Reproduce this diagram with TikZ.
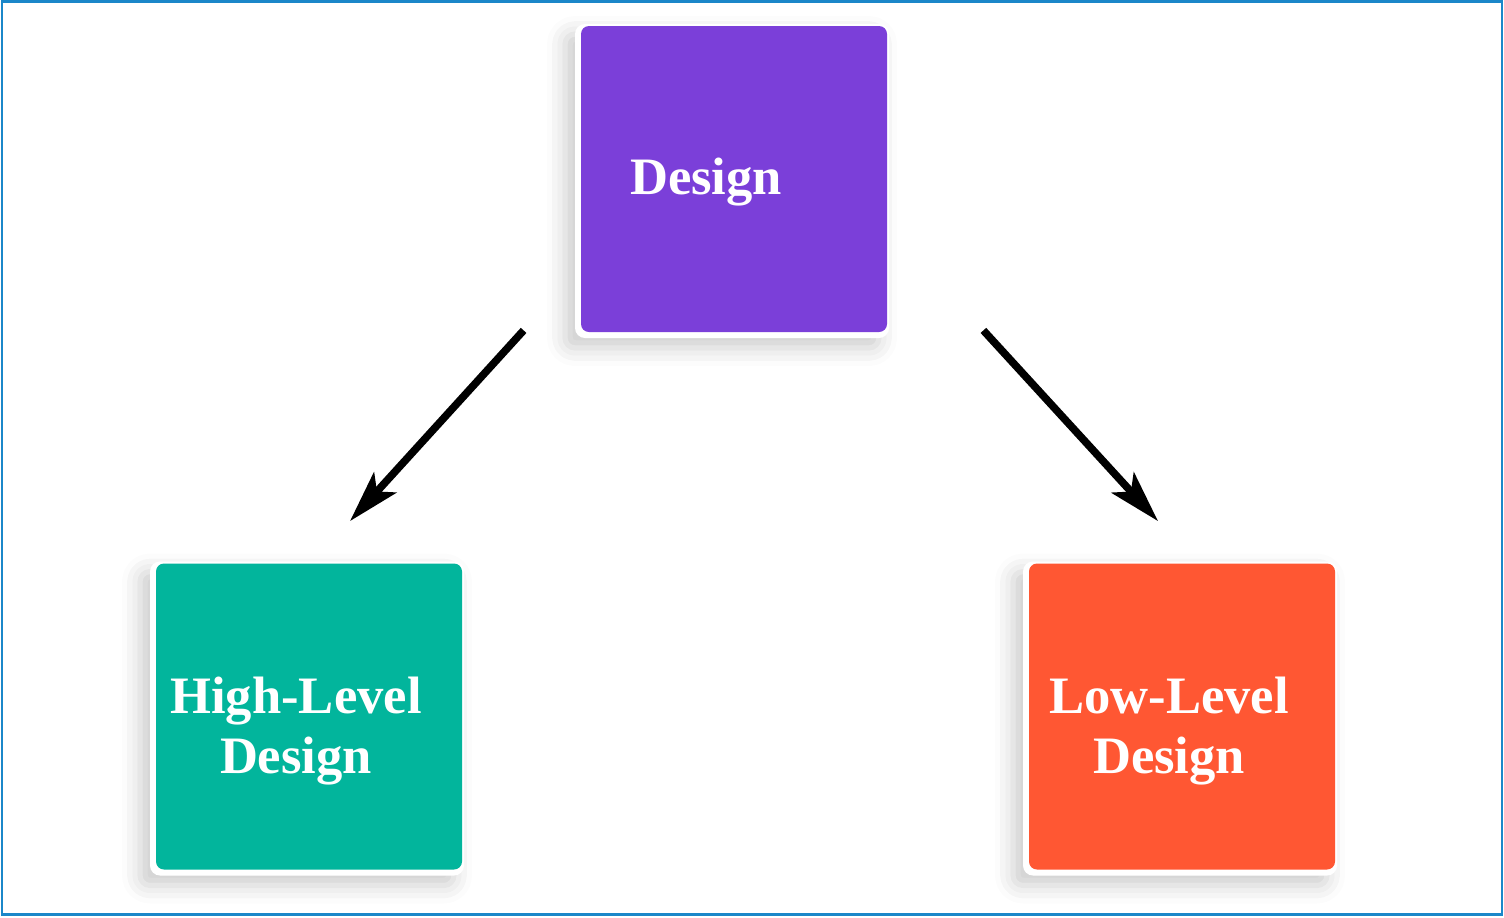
\documentclass[tikz,border=0pt]{standalone}
\usepackage{fontspec}
\setmainfont{Liberation Serif}
\usetikzlibrary{arrows.meta,positioning,shadows.blur,calc}
\definecolor{designpurple}{HTML}{7B3FD9}
\definecolor{hldteal}{HTML}{02B59C}
\definecolor{lldorange}{HTML}{FF5733}
\definecolor{frameblue}{HTML}{1B87C9}

\begin{document}
\begin{tikzpicture}[
        x=0.5pt, y=-0.5pt,
        card/.style={
          fill=white,
          rounded corners=5pt,
          minimum width=157pt,
          minimum height=157pt,
          inner sep=0pt,
          blur shadow={shadow xshift=-5pt, shadow yshift=-5pt,
            shadow blur radius=9pt, shadow opacity=20}
        },
        tile/.style={
          rounded corners=4pt,
          minimum width=153pt,
          minimum height=153pt,
          inner sep=0pt
        },
        caption/.style={
          text=white,
          font=\fontsize{26.3}{30}\selectfont\bfseries,
          align=center,
          inner sep=0pt
        },
        flow/.style={
          -{Stealth[length=26pt,width=15pt,inset=6pt]},
          line width=3.8pt,
          black
        }
      ]

      \useasboundingbox (0,0) rectangle (1504,917);
      \draw[frameblue, line width=1.2pt] (2,1.5) rectangle (1502,914.5);

      \node[card] (designcard) at (732,181) {};
      \node[tile, fill=designpurple] (design) at ([shift={(1pt,1pt)}]designcard.center) {};
      \node[card] (hldcard) at (307,718.5) {};
      \node[tile, fill=hldteal] (hld) at ([shift={(1pt,1pt)}]hldcard.center) {};
      \node[card] (lldcard) at (1180,718.5) {};
      \node[tile, fill=lldorange] (lld) at ([shift={(1pt,1pt)}]lldcard.center) {};

      \node[caption] (designtext) at (706,182) {Design};
      \node[caption] (hldtext) at (296,731) {High-Level\\Design};
      \node[caption] (lldtext) at (1169,731) {Low-Level\\Design};

      \draw[flow] ($(design.south west)+(-28.5pt,1pt)$) -- ($(hld.north)+(20.5pt,21pt)$);
      \draw[flow] ($(design.south east)+(48pt,1pt)$) -- ($(lld.north)+(-12pt,21pt)$);

      \end{tikzpicture}
\end{document}
